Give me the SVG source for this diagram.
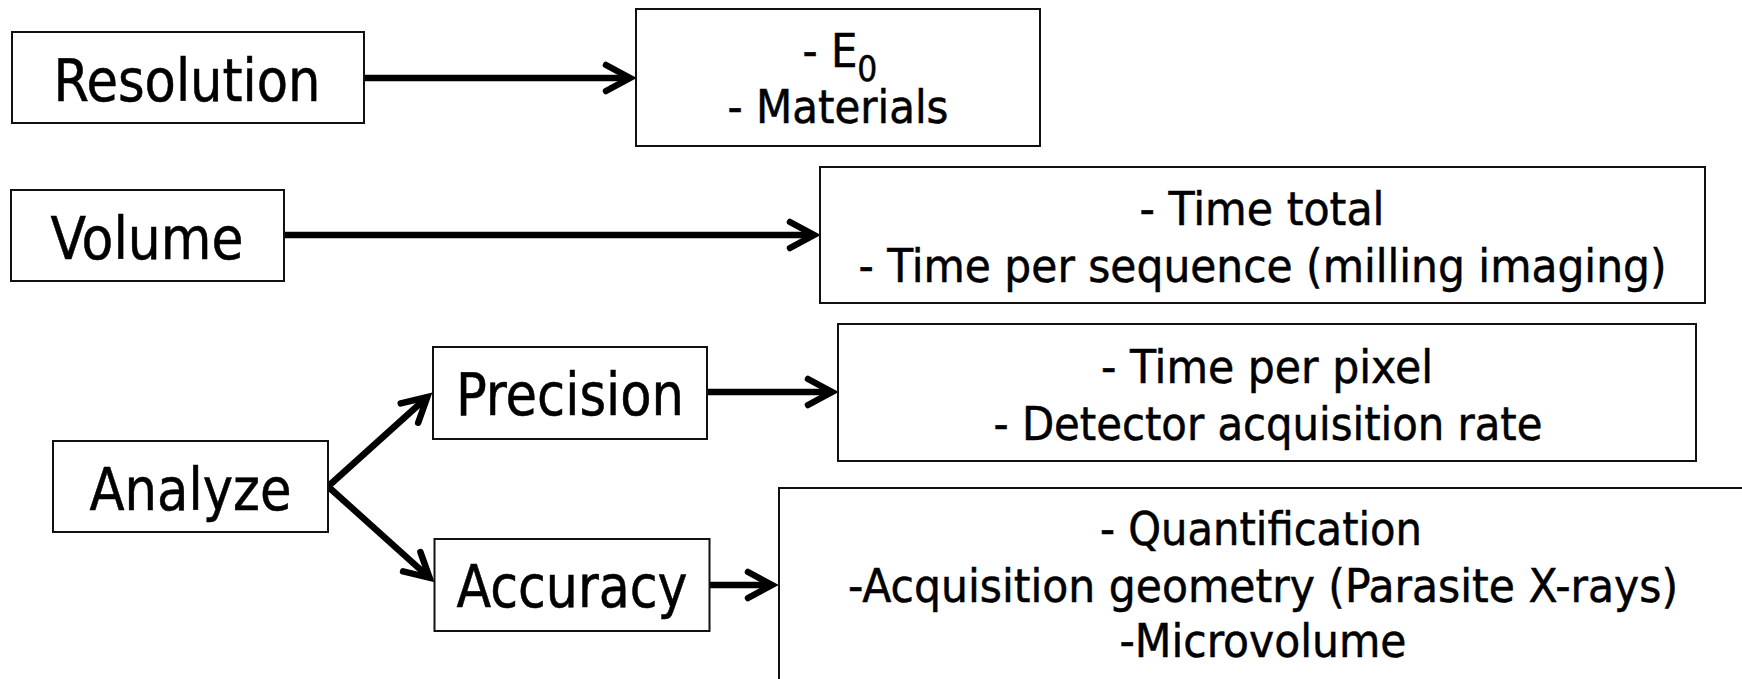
<svg xmlns="http://www.w3.org/2000/svg" width="1742" height="679" viewBox="0 0 1742 679">
<style>
.box{fill:#fff;stroke:#111;stroke-width:2}
.t{font-family:"DejaVu Sans Condensed","DejaVu Sans",sans-serif;font-stretch:condensed;fill:#000;stroke:#000;stroke-width:0.5;text-anchor:middle}
.big{font-size:58px}
.small{font-size:46.5px}
.con{fill:none;stroke:#000;stroke-width:6.5;marker-end:url(#arr)}
</style>
<defs>
<marker id="arr" markerUnits="userSpaceOnUse" markerWidth="40" markerHeight="40" viewBox="0 0 40 40" refX="30" refY="20" orient="auto" overflow="visible">
<path d="M6 7 L30 20 L6 33" fill="none" stroke="#000" stroke-width="6.5" stroke-linecap="round" stroke-linejoin="miter"/>
</marker>
</defs>
<rect width="1742" height="679" fill="#fff"/>
<g id="connectors">
<path class="con" d="M364 78 L630 78"/>
<path class="con" d="M284 235 L814 235"/>
<path class="con" d="M707 392 L832 392"/>
<path class="con" d="M710 585 L772 585"/>
<path class="con" d="M328 486.5 L427.3 397"/>
<path class="con" d="M328 486.5 L429.6 577.8"/>
</g>
<g id="resolution">
<rect class="box" x="12" y="32" width="352" height="91"/>
<text class="t big" x="187" y="101" textLength="267" lengthAdjust="spacingAndGlyphs">Resolution</text>
</g>
<g id="e0-materials">
<rect class="box" x="636" y="9" width="404" height="137"/>
<text class="t small" x="802.5" y="67" style="text-anchor:start">- E<tspan font-size="35" dy="14">0</tspan></text>
<text class="t small" x="838" y="123" textLength="221" lengthAdjust="spacingAndGlyphs">- Materials</text>
</g>
<g id="volume">
<rect class="box" x="11" y="190" width="273" height="91"/>
<text class="t big" x="147" y="259" textLength="193" lengthAdjust="spacingAndGlyphs">Volume</text>
</g>
<g id="time">
<rect class="box" x="820" y="167" width="885" height="136"/>
<text class="t small" x="1262" y="225" textLength="245" lengthAdjust="spacingAndGlyphs">- Time total</text>
<text class="t small" x="1262.5" y="281.5" textLength="808" lengthAdjust="spacingAndGlyphs">- Time per sequence (milling imaging)</text>
</g>
<g id="analyze">
<rect class="box" x="53" y="441" width="275" height="91"/>
<text class="t big" x="190.5" y="510" textLength="202" lengthAdjust="spacingAndGlyphs">Analyze</text>
</g>
<g id="precision">
<rect class="box" x="433" y="347" width="274" height="92"/>
<text class="t big" x="570" y="415" textLength="228" lengthAdjust="spacingAndGlyphs">Precision</text>
</g>
<g id="pixel">
<rect class="box" x="838" y="324" width="858" height="137"/>
<text class="t small" x="1267" y="383" textLength="332" lengthAdjust="spacingAndGlyphs">- Time per pixel</text>
<text class="t small" x="1268" y="440" textLength="549" lengthAdjust="spacingAndGlyphs">- Detector acquisition rate</text>
</g>
<g id="accuracy">
<rect class="box" x="434.5" y="539" width="275" height="92"/>
<text class="t big" x="572" y="607" textLength="231" lengthAdjust="spacingAndGlyphs">Accuracy</text>
</g>
<g id="quantification">
<rect class="box" x="779" y="488" width="970" height="300"/>
<text class="t small" x="1261" y="545" textLength="322" lengthAdjust="spacingAndGlyphs">- Quantification</text>
<text class="t small" x="1263" y="601.5" textLength="830" lengthAdjust="spacingAndGlyphs">-Acquisition geometry (Parasite X-rays)</text>
<text class="t small" x="1263" y="656.5" textLength="287" lengthAdjust="spacingAndGlyphs">-Microvolume</text>
</g>
</svg>
